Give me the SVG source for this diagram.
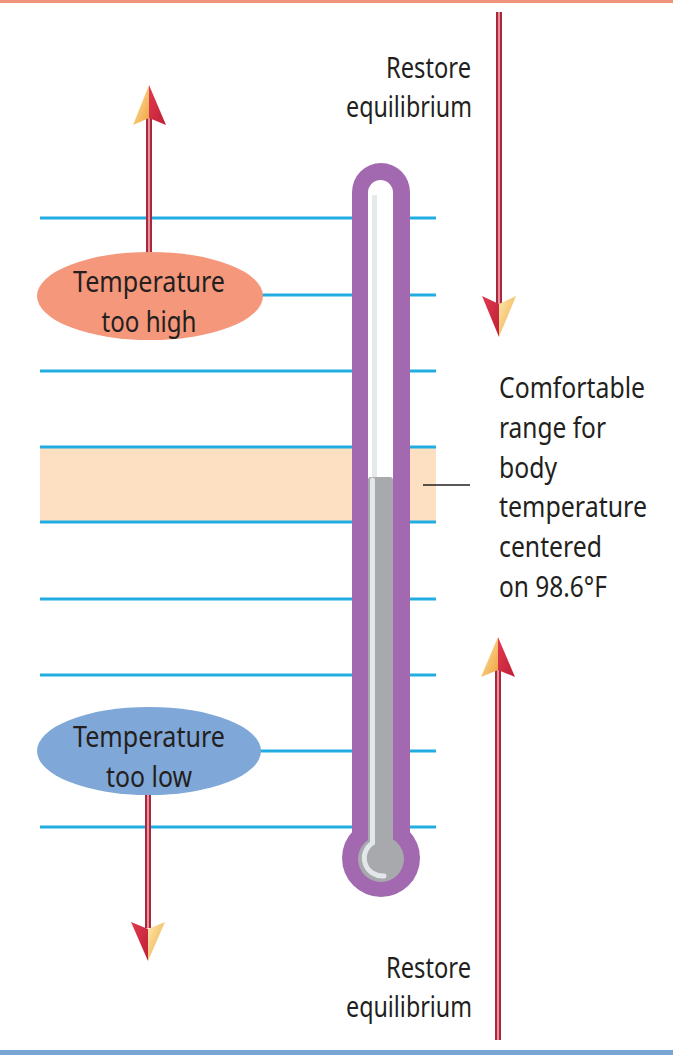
<svg xmlns="http://www.w3.org/2000/svg" width="678" height="1055" viewBox="0 0 678 1055">
<defs>
<linearGradient id="gy" x1="0" y1="0" x2="1" y2="1">
<stop offset="0" stop-color="#fcebb0"/>
<stop offset="1" stop-color="#f0a23c"/>
</linearGradient>
<linearGradient id="gr" x1="0" y1="0" x2="1" y2="1">
<stop offset="0" stop-color="#e23a50"/>
<stop offset="1" stop-color="#be1f37"/>
</linearGradient>
<style>
.t{font-family:"Noto Sans","Liberation Sans",sans-serif;font-size:29px;fill:#231f20}
.m{text-anchor:middle}
.e{text-anchor:end}
.hl{stroke:#22ade2;stroke-width:3}
.shaft{fill:#a8283c}
.stripe{fill:#e8909c}
.y{fill:url(#gy)}
.r{fill:url(#gr)}
.purple{fill:#a269b0}
.gray{fill:#a7a9ac}
</style>
</defs>
<rect x="0" y="0" width="678" height="1055" fill="#ffffff"/>
<rect x="0" y="0" width="673" height="3" fill="#f0937a"/>
<rect x="0" y="1050" width="673" height="5" fill="#7ba5d4"/>

<g id="band">
<rect x="40" y="448" width="396" height="74" fill="#fde0c2"/>
</g>
<g id="scale-lines">
<line class="hl" x1="40" y1="218" x2="436" y2="218"/>
<line class="hl" x1="40" y1="295" x2="436" y2="295"/>
<line class="hl" x1="40" y1="371" x2="436" y2="371"/>
<line class="hl" x1="40" y1="447" x2="436" y2="447"/>
<line class="hl" x1="40" y1="522" x2="436" y2="522"/>
<line class="hl" x1="40" y1="599" x2="436" y2="599"/>
<line class="hl" x1="40" y1="675" x2="436" y2="675"/>
<line class="hl" x1="40" y1="751" x2="436" y2="751"/>
<line class="hl" x1="40" y1="827" x2="436" y2="827"/>
</g>

<g id="thermometer">
<rect class="purple" x="352" y="163" width="58" height="700" rx="29"/>
<circle class="purple" cx="381" cy="858" r="39"/>
<rect x="368" y="180" width="25" height="320" rx="12.5" fill="#ffffff"/>
<rect x="372" y="195" width="5" height="290" fill="#e4e9eb"/>
<rect class="gray" x="368" y="477" width="25" height="370" rx="3"/>
<circle class="gray" cx="381" cy="859" r="23"/>
<path d="M372.5 480 L372.5 843 A18 18 0 0 0 384 876" fill="none" stroke="#e2e7e9" stroke-width="5" stroke-linecap="round"/>
</g>

<g id="connectors">
<rect class="shaft" x="496" y="12" width="6" height="292"/>
<rect class="stripe" x="498" y="12" width="2" height="292"/>
<polygon class="r" points="482,296 499,304 499,337"/>
<polygon class="y" points="499,304 516,296 499,337"/>

<rect class="shaft" x="146" y="118" width="6" height="136"/>
<rect class="stripe" x="148" y="118" width="2" height="136"/>
<polygon class="y" points="133,125 149,118 149,85"/>
<polygon class="r" points="149,85 149,118 166,125"/>

<rect class="shaft" x="145" y="794" width="6" height="134"/>
<rect class="stripe" x="147" y="794" width="2" height="134"/>
<polygon class="r" points="131,922 148,929 148,961"/>
<polygon class="y" points="148,929 165,922 148,961"/>

<rect class="shaft" x="495" y="668" width="6" height="372"/>
<rect class="stripe" x="497" y="668" width="2" height="372"/>
<polygon class="y" points="481,677 498,670 498,637"/>
<polygon class="r" points="498,637 498,670 515,677"/>

<line x1="423" y1="485" x2="470" y2="485" stroke="#231f20" stroke-width="1.5"/>
</g>

<g id="node-high">
<ellipse cx="150" cy="296" rx="113" ry="44" fill="#f4977b"/>
<text class="t m" x="149" y="292" textLength="152" lengthAdjust="spacingAndGlyphs">Temperature</text>
<text class="t m" x="149" y="332" textLength="95" lengthAdjust="spacingAndGlyphs">too high</text>
</g>

<g id="node-low">
<ellipse cx="149" cy="751" rx="112" ry="44" fill="#7fa7d7"/>
<text class="t m" x="149" y="747" textLength="152" lengthAdjust="spacingAndGlyphs">Temperature</text>
<text class="t m" x="149" y="787" textLength="86" lengthAdjust="spacingAndGlyphs">too low</text>
</g>

<g id="label-restore-top">
<text class="t e" x="471" y="78" textLength="85" lengthAdjust="spacingAndGlyphs">Restore</text>
<text class="t e" x="472" y="117" textLength="126" lengthAdjust="spacingAndGlyphs">equilibrium</text>
</g>

<g id="label-restore-bottom">
<text class="t e" x="471" y="978" textLength="85" lengthAdjust="spacingAndGlyphs">Restore</text>
<text class="t e" x="472" y="1017" textLength="126" lengthAdjust="spacingAndGlyphs">equilibrium</text>
</g>

<g id="label-range">
<text class="t" x="499" y="398" textLength="146" lengthAdjust="spacingAndGlyphs">Comfortable</text>
<text class="t" x="499" y="438" textLength="107" lengthAdjust="spacingAndGlyphs">range for</text>
<text class="t" x="499" y="478" textLength="58" lengthAdjust="spacingAndGlyphs">body</text>
<text class="t" x="499" y="517" textLength="148" lengthAdjust="spacingAndGlyphs">temperature</text>
<text class="t" x="499" y="557" textLength="103" lengthAdjust="spacingAndGlyphs">centered</text>
<text class="t" x="499" y="597" textLength="108" lengthAdjust="spacingAndGlyphs">on 98.6°F</text>
</g>
</svg>
